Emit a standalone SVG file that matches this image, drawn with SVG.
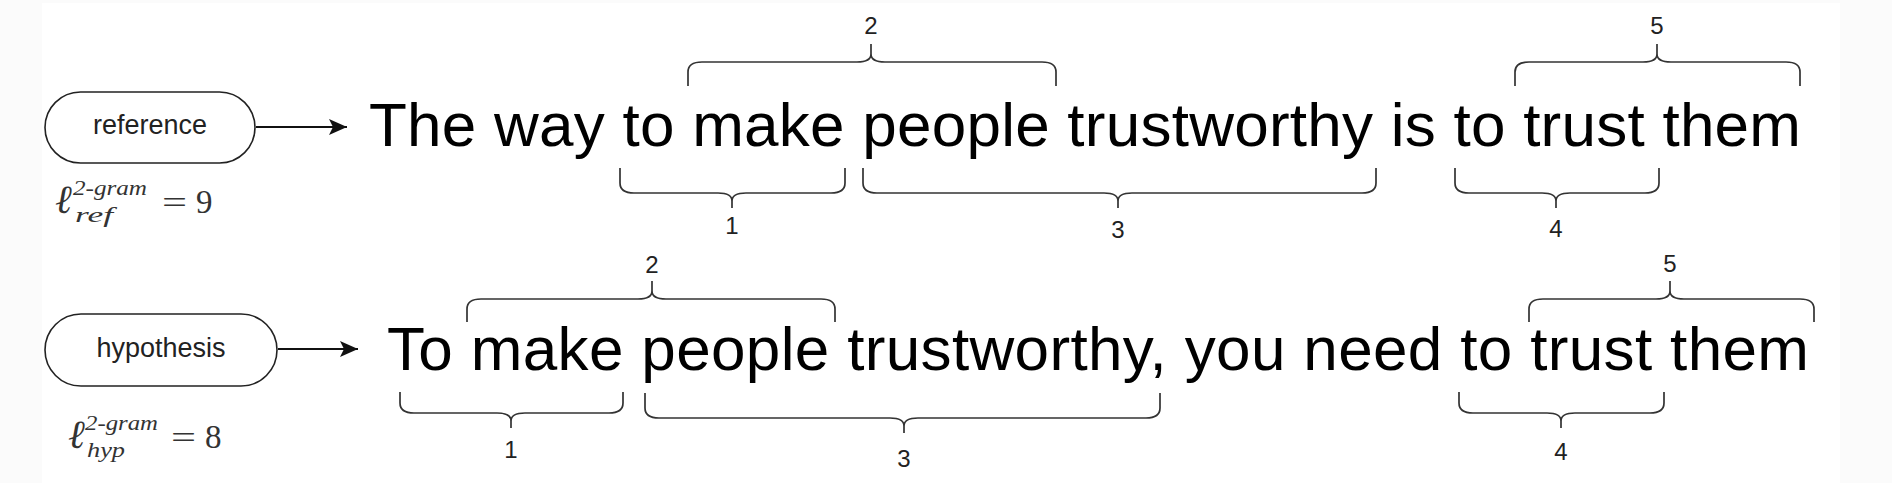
<svg xmlns="http://www.w3.org/2000/svg" width="1892" height="483" viewBox="0 0 1892 483">
  <style>
    .box { fill: #ffffff; stroke: #222222; stroke-width: 1.6; }
    .lbl { font-family: "Liberation Sans", Arial, sans-serif; font-size: 27px; fill: #222222; text-anchor: middle; }
    .sent { font-family: "Liberation Sans", Arial, sans-serif; font-size: 62px; fill: #000000; }
    .num { font-family: "Liberation Sans", Arial, sans-serif; font-size: 24px; fill: #222222; text-anchor: middle; }
    .brace { fill: none; stroke: #333333; stroke-width: 1.7; stroke-linejoin: round; }
    .conn { stroke: #111111; stroke-width: 1.8; fill: none; }
    .math { font-family: "Liberation Serif", "DejaVu Serif", serif; font-style: italic; fill: #333333; }
    .mathr { font-family: "Liberation Serif", "DejaVu Serif", serif; fill: #333333; }
  </style>
  <defs>
    <marker id="arrow" markerUnits="userSpaceOnUse" markerWidth="20" markerHeight="20" refX="18" refY="8" orient="auto">
      <path d="M0 0 L18 8 L0 16 L4 8 Z" fill="#111111"/>
    </marker>
  </defs>

  <rect x="0" y="0" width="1892" height="483" fill="#fbfbfb"/>
  <rect x="42" y="3" width="1798" height="480" fill="#ffffff"/>

  <g id="node-reference">
    <rect class="box" x="45" y="92" width="210" height="71" rx="35.5" ry="35.5"/>
    <text class="lbl" x="150" y="134">reference</text>
  </g>
  <g id="node-hypothesis">
    <rect class="box" x="45" y="314" width="232" height="72" rx="36" ry="36"/>
    <text class="lbl" x="161" y="357">hypothesis</text>
  </g>

  <g id="connectors">
    <line class="conn" x1="256" y1="127" x2="347" y2="127" marker-end="url(#arrow)"/>
    <line class="conn" x1="278" y1="349" x2="358" y2="349" marker-end="url(#arrow)"/>
  </g>

  <g id="sentence-reference">
    <text class="sent" x="369" y="146" textLength="1432" lengthAdjust="spacing">The way to make people trustworthy is to trust them</text>
  </g>
  <g id="sentence-hypothesis">
    <text class="sent" x="387" y="370" textLength="1422" lengthAdjust="spacing">To make people trustworthy, you need to trust them</text>
  </g>

  <g id="length-reference">
    <text class="math" x="55" y="213" font-size="40">ℓ</text>
    <text class="math" x="73" y="195" font-size="20" textLength="74" lengthAdjust="spacingAndGlyphs">2-gram</text>
    <text class="math" x="75" y="222" font-size="20" textLength="38" lengthAdjust="spacingAndGlyphs">ref</text>
    <text class="mathr" x="162" y="213" font-size="32" textLength="25" lengthAdjust="spacingAndGlyphs">=</text>
    <text class="mathr" x="196" y="213" font-size="33">9</text>
  </g>
  <g id="length-hypothesis">
    <text class="math" x="68" y="448" font-size="40">ℓ</text>
    <text class="math" x="85" y="430" font-size="20" textLength="73" lengthAdjust="spacingAndGlyphs">2-gram</text>
    <text class="math" x="87" y="457" font-size="20" textLength="38" lengthAdjust="spacingAndGlyphs">hyp</text>
    <text class="mathr" x="171" y="448" font-size="32" textLength="25" lengthAdjust="spacingAndGlyphs">=</text>
    <text class="mathr" x="205" y="448" font-size="33">8</text>
  </g>

  <g id="braces">
    <path class="brace" d="M688 86 V72 Q688 62 702 62 H857 Q871 62 871 54 V44 M871 54 Q871 62 885 62 H1042 Q1056 62 1056 72 V86"/>
    <path class="brace" d="M1515 86 V72 Q1515 62 1529 62 H1643 Q1657 62 1657 54 V44 M1657 54 Q1657 62 1671 62 H1786 Q1800 62 1800 72 V86"/>
    <path class="brace" d="M620 168 V183 Q620 193 634 193 H718 Q732 193 732 201 V208 M732 201 Q732 193 746 193 H831 Q845 193 845 183 V168"/>
    <path class="brace" d="M863 168 V183 Q863 193 877 193 H1104 Q1118 193 1118 201 V208 M1118 201 Q1118 193 1132 193 H1362 Q1376 193 1376 183 V168"/>
    <path class="brace" d="M1455 168 V183 Q1455 193 1469 193 H1542 Q1556 193 1556 201 V208 M1556 201 Q1556 193 1570 193 H1645 Q1659 193 1659 183 V168"/>
    <path class="brace" d="M467 322 V309 Q467 299 481 299 H638 Q652 299 652 291 V281 M652 291 Q652 299 666 299 H821 Q835 299 835 309 V322"/>
    <path class="brace" d="M1529 322 V309 Q1529 299 1543 299 H1656 Q1670 299 1670 291 V281 M1670 291 Q1670 299 1684 299 H1800 Q1814 299 1814 309 V322"/>
    <path class="brace" d="M400 392 V403 Q400 413 414 413 H497 Q511 413 511 421 V428 M511 421 Q511 413 525 413 H609 Q623 413 623 403 V392"/>
    <path class="brace" d="M645 393 V408 Q645 418 659 418 H890 Q904 418 904 426 V433 M904 426 Q904 418 918 418 H1146 Q1160 418 1160 408 V393"/>
    <path class="brace" d="M1459 392 V403 Q1459 413 1473 413 H1547 Q1561 413 1561 421 V428 M1561 421 Q1561 413 1575 413 H1650 Q1664 413 1664 403 V392"/>
  </g>

  <g id="brace-labels">
    <text class="num" x="871" y="34">2</text>
    <text class="num" x="1657" y="34">5</text>
    <text class="num" x="732" y="234">1</text>
    <text class="num" x="1118" y="238">3</text>
    <text class="num" x="1556" y="237">4</text>
    <text class="num" x="652" y="273">2</text>
    <text class="num" x="1670" y="272">5</text>
    <text class="num" x="511" y="458">1</text>
    <text class="num" x="904" y="467">3</text>
    <text class="num" x="1561" y="460">4</text>
  </g>
</svg>
